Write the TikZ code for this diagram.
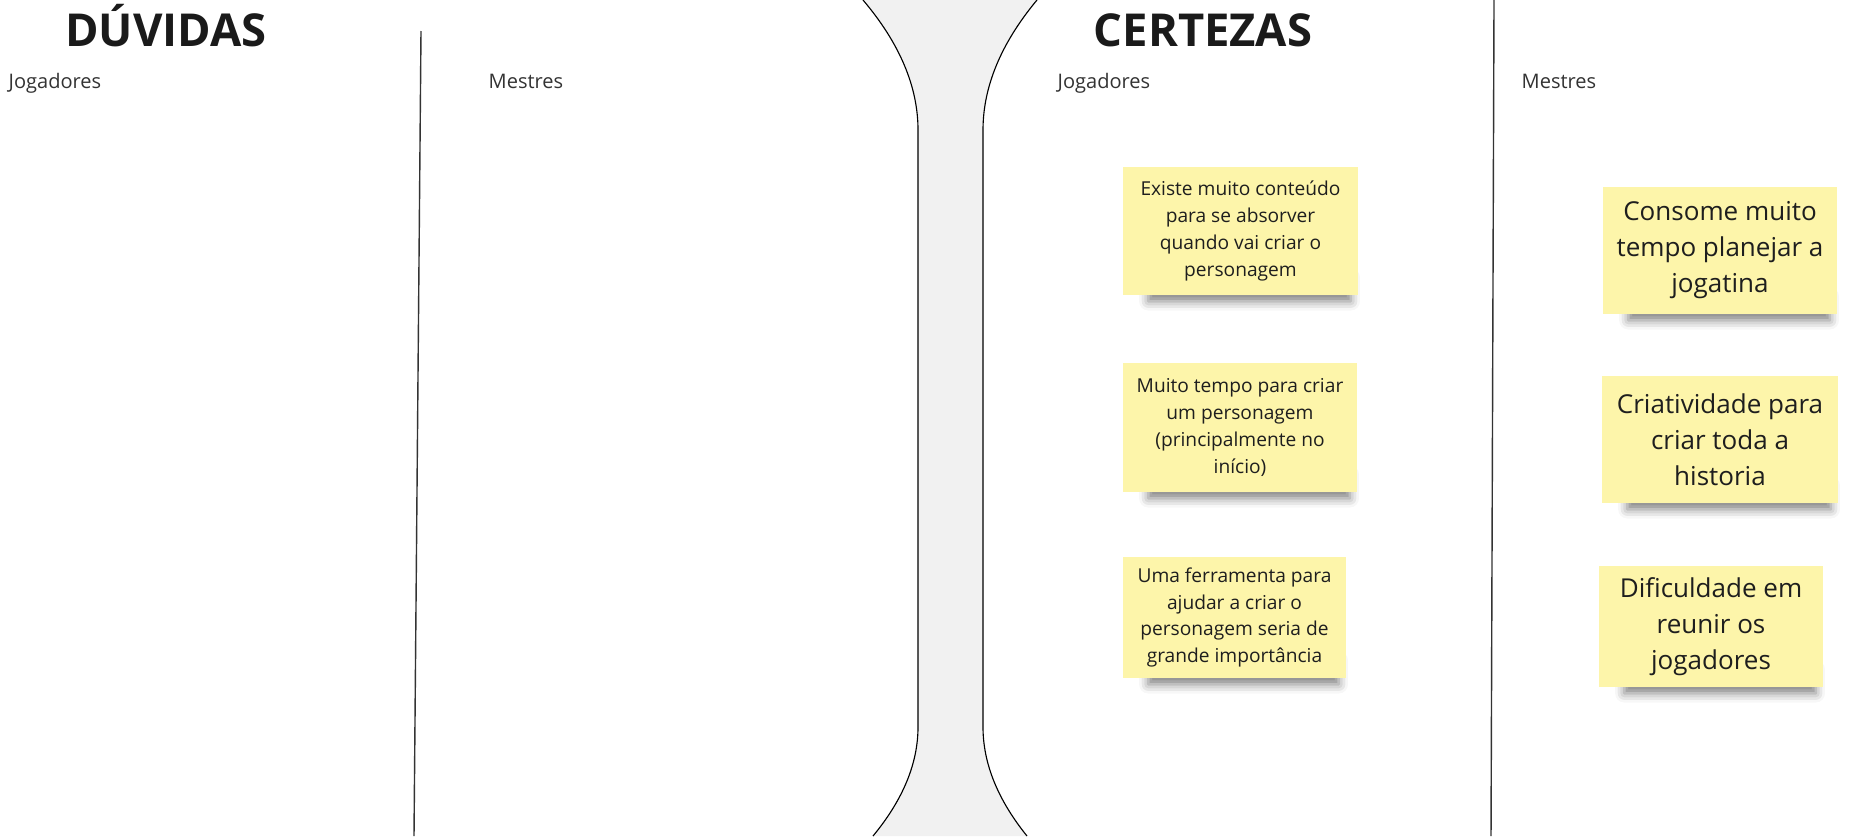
\documentclass[tikz,border=0pt]{standalone}
\usepackage{fontspec}
\setmainfont{Open Sans}
\usetikzlibrary{shadows.blur, backgrounds, calc}

\definecolor{stickyfill}{HTML}{FDF5AA}
\definecolor{stickytext}{HTML}{1E1E1E}
\definecolor{labelgray}{HTML}{333333}
\definecolor{titleblack}{HTML}{1A1A1A}
\definecolor{neckgray}{HTML}{F1F1F1}

\tikzset{
    boardtitle/.style={font=\fontsize{12.9}{15}\selectfont\bfseries, text=titleblack, inner sep=0pt, anchor=base},
    columnlabel/.style={font=\fontsize{5.7}{7}\selectfont, text=labelgray, inner sep=0pt, anchor=base west},
    sticky/.style={fill=stickyfill, text=stickytext, align=center, inner sep=0pt},
    stickyshadow/.style={blur shadow={shadow xshift=0pt, shadow yshift=-1.6pt, shadow opacity=50, shadow blur radius=2.6pt}},
    smallsticky/.style={sticky, font=\fontsize{5.45}{7.6}\selectfont},
    bigsticky/.style={sticky, font=\fontsize{7.4}{10.25}\selectfont}
}

\begin{document}
\begin{tikzpicture}[x=0.01cm, y=-0.01cm]

    % Define the frame of the board
    \useasboundingbox (0,0) rectangle (1867,836);

    % Define the coordinates for the neck between the two halves
    \coordinate (nlt) at (863,0);   % left top
    \coordinate (nlu) at (918,130); % left upper bend
    \coordinate (nll) at (918,727); % left lower bend
    \coordinate (nlb) at (873,836); % left bottom
    \coordinate (nrt) at (1037,0);  % right top
    \coordinate (nru) at (983,130); % right upper bend
    \coordinate (nrl) at (983,727); % right lower bend
    \coordinate (nrb) at (1027,836);% right bottom

    \fill[neckgray] (nlt) .. controls (899.7,43.3) and (918,86.7) .. (nlu) -- (nll)
        .. controls (918,763.3) and (903,799.7) .. (nlb) -- (nrb)
        .. controls (997.7,799.7) and (983,763.3) .. (nrl) -- (nru)
        .. controls (983,86.7) and (1001,43.3) .. (nrt) -- cycle;
    \draw[line width=0.32pt] (nlt) .. controls (899.7,43.3) and (918,86.7) .. (nlu) -- (nll)
        .. controls (918,763.3) and (903,799.7) .. (nlb);
    \draw[line width=0.32pt] (nrt) .. controls (1001,43.3) and (983,86.7) .. (nru) -- (nrl)
        .. controls (983,763.3) and (997.7,799.7) .. (nrb);

    % Column dividers
    \coordinate (dlt) at (421,31);
    \coordinate (dlb) at (414,836);
    \coordinate (drt) at (1494,0);
    \coordinate (drb) at (1491,836);
    \draw[labelgray, line width=0.4pt] (dlt) -- (dlb);
    \draw[labelgray, line width=0.4pt] (drt) -- (drb);

    % Titles and column labels
    \node[boardtitle] (duvidas) at (166,46) {DÚVIDAS};
    \node[boardtitle] (certezas) at (1203,46) {CERTEZAS};

    \foreach \name/\x/\txt in {
        dj/8/Jogadores,
        dm/488/Mestres,
        cj/1057/Jogadores,
        cm/1521/Mestres
    } {
        \node[columnlabel] (\name) at (\x,88) {\txt};
    }

    % Sticky notes of the players
    \node[smallsticky, minimum width=2.35cm, minimum height=1.28cm] (cj1) at (1240.5,231)
        {Existe muito conteúdo\\para se absorver\\quando vai criar o\\personagem};
    \node[smallsticky, minimum width=2.34cm, minimum height=1.29cm] (cj2) at (1240,427.5)
        {Muito tempo para criar\\um personagem\\(principalmente no\\início)};
    \node[smallsticky, minimum width=2.23cm, minimum height=1.21cm] (cj3) at (1234.5,617.5)
        {Uma ferramenta para\\ajudar a criar o\\personagem seria de\\grande importância};

    % Sticky notes of the masters
    \node[bigsticky, minimum width=2.34cm, minimum height=1.27cm] (cm1) at (1720,250.5)
        {Consome muito\\tempo planejar a\\jogatina};
    \node[bigsticky, minimum width=2.36cm, minimum height=1.27cm] (cm2) at (1720,439.5)
        {Criatividade para\\criar toda a\\historia};
    \node[bigsticky, minimum width=2.24cm, minimum height=1.21cm] (cm3) at (1711,626.5)
        {Dificuldade em\\reunir os\\jogadores};

    % Shadows under the sticky notes
    \begin{pgfonlayer}{background}
        \foreach \name in {cj1, cj2, cj3, cm1, cm2, cm3} {
            \path[stickyshadow] ($(\name.south west)+(26,-24)$) rectangle ($(\name.south east)+(-8,0)$);
        }
    \end{pgfonlayer}

\end{tikzpicture}
\end{document}
